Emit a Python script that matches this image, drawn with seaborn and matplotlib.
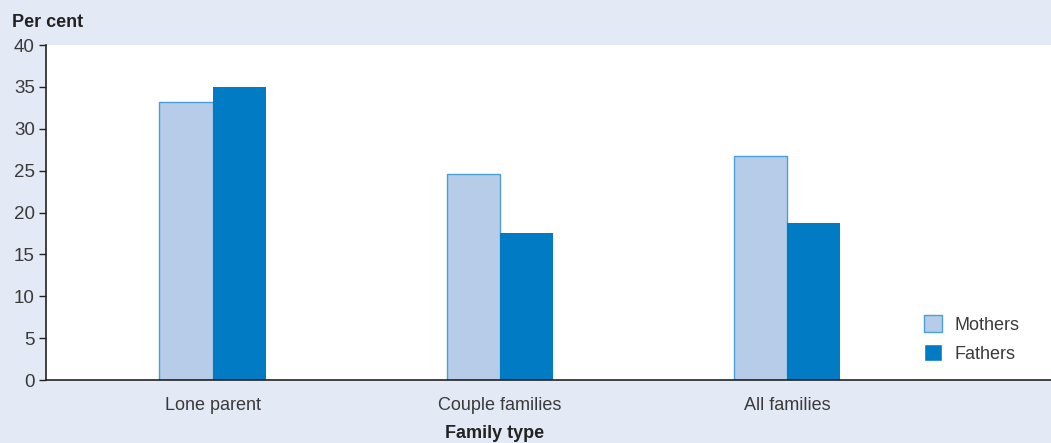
import pandas as pd
import matplotlib.pyplot as plt
import seaborn as sns

sns.set_style("white")
plt.rcParams["font.family"] = ["Liberation Sans", "DejaVu Sans"]

families = ["Lone parent", "Couple families", "All families"]
mothers = [33.2, 24.6, 26.7]
fathers = [35.0, 17.5, 18.7]

df = pd.DataFrame({
    "Family type": families * 2,
    "Parent": ["Mothers"] * 3 + ["Fathers"] * 3,
    "Per cent": mothers + fathers,
})

bg = "#e3eaf5"
fig = plt.figure(figsize=(10.51, 4.43), dpi=100, facecolor=bg)
ax = fig.add_axes([0.0438, 0.1422, 0.9562, 0.7562])
ax.set_facecolor("white")

sns.barplot(data=df, x="Family type", y="Per cent", hue="Parent",
            palette={"Mothers": "#b6cce8", "Fathers": "#007bc4"},
            width=0.37, gap=0, ax=ax, saturation=1)

# thin blue outline on the mothers bars
for bar in ax.containers[0]:
    bar.set_edgecolor("#4c9fd6")
    bar.set_linewidth(1.0)
for bar in ax.containers[1]:
    bar.set_linewidth(0)

ax.set_xlim(-0.58, 2.92)
ax.set_ylim(0, 40)
ax.set_yticks(range(0, 41, 5))
ax.tick_params(axis="y", direction="out", length=5, width=1, color="#222222",
               labelsize=13.5, labelcolor="#3a3a3a", pad=3, left=True)
ax.tick_params(axis="x", length=0, labelsize=13, labelcolor="#3a3a3a", pad=12)

for side in ["top", "right"]:
    ax.spines[side].set_visible(False)
for side in ["left", "bottom"]:
    ax.spines[side].set_color("#222222")
    ax.spines[side].set_linewidth(1.2)

ax.set_xlabel("")
ax.set_ylabel("")
fig.text(0.471, 0.022, "Family type", fontsize=13, fontweight="bold", color="#222222",
         ha="center", va="center")
fig.text(0.011, 0.95, "Per cent", fontsize=13, fontweight="bold", color="#222222",
         ha="left", va="center")

leg = ax.legend(title=None, frameon=False, loc="lower right", bbox_to_anchor=(0.985, 0.003),
                fontsize=13, handlelength=1.0, handleheight=1.0, handletextpad=0.7,
                labelspacing=0.6, labelcolor="#3a3a3a")
handles = leg.legend_handles
handles[0].set_edgecolor("#4c9fd6")
handles[0].set_linewidth(1.0)

fig.savefig("out.png", dpi=100, facecolor=bg)
